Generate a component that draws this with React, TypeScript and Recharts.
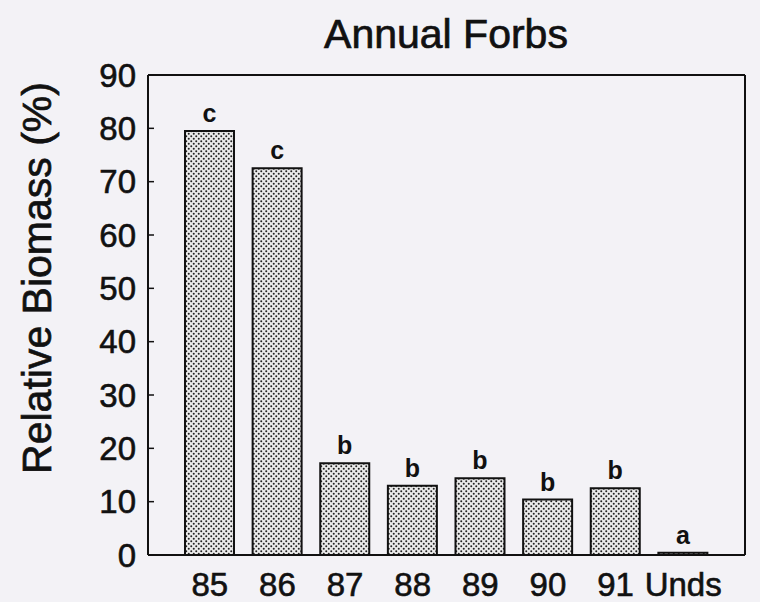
import { Bar, BarChart, CartesianGrid, LabelList, XAxis, YAxis } from "recharts"

// values
const years = ["85", "86", "87", "88", "89", "90", "91", "Unds"]
const biomass = [79.5, 72.5, 17.2, 13.0, 14.4, 10.4, 12.5, 0.4]
const groups = ["c", "c", "b", "b", "b", "b", "b", "a"]
const yTicks = [0, 10, 20, 30, 40, 50, 60, 70, 80, 90]

const data = years.map((year, i) => ({
  year,
  biomass: biomass[i],
  group: groups[i],
}))

const FONT = "'Liberation Sans', Arial, Helvetica, sans-serif"
const INK = "#111"
const frameLine = { stroke: INK, strokeWidth: 2 }

// the grid only draws the top and right edges of the plot frame
const frameTop = ({ offset }: any) => [offset.top]
const frameRight = ({ offset }: any) => [offset.left + offset.width]

export default function App() {
  return (
    <div
      style={{
        position: "absolute",
        left: 0,
        top: 0,
        width: 760,
        height: 602,
        background: "#f3f2f6",
        fontFamily: FONT,
      }}
    >
      <BarChart
        width={760}
        height={602}
        data={data}
        margin={{ top: 75, right: 15, bottom: 0, left: 0 }}
      >
        <defs>
          <pattern id="dots" width="5" height="5" patternUnits="userSpaceOnUse">
            <rect width="5" height="5" fill="#eaeaea" />
            <circle cx="1.25" cy="1.25" r="1" fill="#222" />
            <circle cx="3.75" cy="3.75" r="1" fill="#222" />
          </pattern>
        </defs>
        <text
          x={446}
          y={48}
          textAnchor="middle"
          fontSize={41}
          fontFamily={FONT}
          fill={INK}
          stroke={INK}
          strokeWidth={0.7}
        >
          Annual Forbs
        </text>
        <text
          x={0}
          y={0}
          transform="translate(51, 278) rotate(-90)"
          textAnchor="middle"
          fontSize={41}
          fontFamily={FONT}
          fill={INK}
          stroke={INK}
          strokeWidth={0.7}
        >
          Relative Biomass (%)
        </text>
        <CartesianGrid
          stroke={INK}
          strokeWidth={2}
          horizontalCoordinatesGenerator={frameTop}
          verticalCoordinatesGenerator={frameRight}
        />
        <XAxis
          dataKey="year"
          padding={{ left: 28, right: 28 }}
          height={47}
          tickLine={false}
          tickMargin={12}
          axisLine={frameLine}
          tick={{ fontSize: 33, fill: INK, stroke: INK, strokeWidth: 0.6, fontFamily: FONT }}
          interval={0}
        />
        <YAxis
          domain={[0, 90]}
          ticks={yTicks}
          width={148}
          tickSize={-6}
          tickMargin={18}
          axisLine={frameLine}
          tickLine={{ stroke: INK, strokeWidth: 1.5 }}
          tick={{ fontSize: 33, fill: INK, stroke: INK, strokeWidth: 0.6, fontFamily: FONT }}
          interval={0}
        />
        <Bar
          dataKey="biomass"
          barSize={49}
          fill="url(#dots)"
          stroke={INK}
          strokeWidth={2}
          isAnimationActive={false}
        >
          <LabelList
            dataKey="group"
            position="top"
            offset={9}
            fontSize={25}
            fontWeight="bold"
            fill={INK}
            fontFamily={FONT}
          />
        </Bar>
      </BarChart>
    </div>
  )
}
